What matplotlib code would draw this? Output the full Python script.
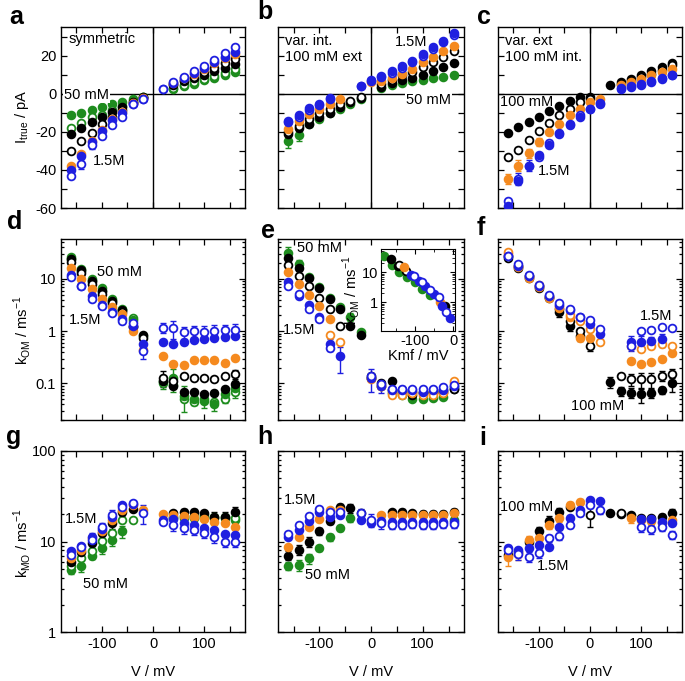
import numpy as np
import matplotlib
matplotlib.use('Agg')
import matplotlib.pyplot as plt
from matplotlib.ticker import MultipleLocator, LogLocator, NullFormatter, FixedLocator

plt.rcParams['font.family'] = ['Liberation Sans', 'DejaVu Sans']
plt.rcParams['font.size'] = 10.5
plt.rcParams['axes.unicode_minus'] = False

N = np.nan
V = np.arange(-160, 161, 20)

GREEN = '#1e8c1e'
ORANGE = '#f58a1f'
BLUE = '#1f1fe0'
BLACK = '#000000'

# ---- panel a : I_true (pA), symmetric
a_green_f = [-11, -10, -8.5, -7, -5.5, -4.5, -3, -1.5, N, N, 2.3, 3.8, 5.2, 7, 8.3, 9.6, 11.5]
a_green_o = [-18, -15.5, -12.5, -11, -8.5, -6.5, -4, -2, N, N, 2.8, 4.3, 6, 7.8, 9.3, 11, 13]
a_black_f = [-21, -18, -15, -12.5, -9.5, -7, -4.5, -2, N, N, 4.5, 6.6, 8, 10, 12, 13.5, 15.6]
a_black_o = [-30, -25, -20.5, -16, -12, -8.5, -5, -2.5, N, N, 5, 7.2, 9, 11.3, 13.5, 16, 18]
a_orange_f = [-38, -31.5, -25, -19, -13.5, -9.5, -5, -2.5, N, N, 5.5, 8, 10.5, 13, 16, 18.5, 21]
a_blue_f = [-40, -32.5, -25.5, -19.5, -14, -10, -5.5, -3, N, 2.2, 5.5, 8, 10.8, 13.5, 16.5, 19.5, 22]
a_blue_o = [-43, -37, -27, -22, -16.5, -12, -5.5, -3, N, 2.4, 6, 8.7, 11.8, 14.4, 17.5, 21.4, 24.3]
a_blue_o_err = [1.5, 2.5, 2, 1.5, 1, N, N, N, N, N, N, N, N, N, N, N, N]

# ---- panel b : var. int.
b_green_f = [-24.7, -21.7, -16, -13.4, -10.4, -7.8, -5.2, -3, N, 3.1, 4.5, 5.6, 6.4, 7.2, 8.2, 9, 9.6]
b_green_f_err = [4, 3, 1, N, N, N, N, N, N, N, N, N, N, N, N, N, N]
b_black_f = [-21.2, -18, -15.7, -12.2, -10, -7, -4.3, -2.3, N, 3.5, 5.6, 7, 8.2, 9.6, 11.7, 14, 16.2]
b_black_o = [-20, -17, -13.4, -10.4, -7.8, -5.2, -4, -1.7, N, 4.9, 7, 9.6, 11.3, 14, 16.5, 19, 22.6]
b_orange_f = [-18.3, -14.3, -10.8, -7.8, -5.2, -2.6, N, N, 6, 6.5, 8.3, 10.5, 13, 16.5, 19.5, 22.6, 25]
b_blue_o = [-15, -12, -8.5, -6, -3, N, N, 3.8, 6.5, 8.5, 11, 13.5, 16.5, 20, 23.5, 27, 31]
b_blue_f = [-14.3, -11, -7.5, -5.2, -2.3, N, N, 4.2, 7, 9.2, 11.8, 14.4, 17.4, 20.9, 24.3, 27.8, 31.8]

# ---- panel c : var. ext
c_black_f = [-20.5, -17.7, -15.1, -12.2, -9.2, -6.6, -3.8, -1.7, -2, N, 4.3, 6, 7.8, 9.6, 11.8, 13.9, 16.2]
c_black_o = [-33.4, -29.6, -24.3, -19.7, -15.3, -11.3, -8.3, -4.3, -2.6, N, N, 5, 6.8, 8.5, 10.2, 12.5, 15]
c_orange_f = [-44.7, -37.7, -31.3, -25.2, -20, -15.7, -11.3, -7.8, -4.3, -3, N, 4.3, 6, 7.8, 9.6, 11.5, 13]
c_orange_f_err = [2.5, 3, 2.5, 2, 1.5, 1, N, N, N, N, N, N, N, N, N, N, N]
c_blue_o = [-56.5, -44.7, -37.7, -33, -26, -20.5, -15.7, -11.3, -7.8, -4.9, N, 3.1, 3.8, 5.2, 6.6, 8.2, 10]
c_blue_o_err = [N, 3, 3, 2, 1.5, N, N, N, N, N, N, N, N, N, N, N, N]
c_blue_f = [-59, -46, -38, -32, -27, -21, -16.5, -12, -8.3, -5.6, N, 2.6, 3.3, 4.5, 6, 7.5, 9.6]

# ---- panel d : k_OM, symmetric
d_green_f = [26.8, 15.4, 10, 6.7, 4.1, 2.7, 1.67, 0.8, N, 0.11, 0.13, 0.058, 0.05, 0.046, 0.04, 0.062, 0.083]
d_green_f_err = [N, N, N, N, N, N, N, N, N, 0.03, 0.06, 0.03, 0.012, 0.012, 0.01, 0.02, 0.03]
d_green_o = [24, 14, 9, 6, 3.8, 2.5, 1.8, N, N, 0.1, 0.095, 0.05, 0.045, 0.05, 0.045, 0.05, 0.07]
d_black_f = [23.8, 15, 9, 5.8, 3.7, 2.5, 1.28, 0.86, N, 0.11, 0.09, 0.07, 0.069, 0.062, 0.065, 0.077, 0.096]
d_black_o = [21, 13, 8, 5.2, 3.4, 2.3, 1.2, 0.75, N, 0.13, 0.11, 0.14, 0.13, 0.13, 0.12, 0.14, 0.15]
d_black_o_err = [N, N, N, N, N, N, N, N, N, 0.045, N, N, N, N, N, N, 0.03]
d_orange_f = [16, 10, 6.4, 4.1, 2.9, 2.1, 1.0, 0.43, N, 0.33, 0.24, 0.23, 0.28, 0.28, 0.28, 0.25, 0.31]
d_blue_f = [12, 7.4, 4.8, 3.1, 2.3, 1.7, 1.25, 0.56, N, 0.62, 0.58, 0.62, 0.67, 0.71, 0.75, 0.78, 0.8]
d_blue_o = [10.8, 7.2, 4.1, 3.0, 2.2, 1.6, 1.44, 0.42, N, 1.16, 1.15, 0.96, 1.0, 0.96, 1.0, 1.04, 1.07]
d_blue_o_err = [N, N, N, N, N, N, N, 0.12, N, 0.25, 0.45, 0.25, 0.25, 0.3, 0.3, 0.3, 0.3]

# ---- panel e : k_OM, var. int.
e_green_f = [31, 19, 11, 7, 4.4, 2.9, 1.9, 0.96, 0.13, 0.09, 0.065, 0.06, 0.05, 0.05, 0.052, 0.055, 0.085]
e_green_f_err = [10, 4, N, N, N, N, 0.3, N, N, N, N, N, N, N, N, N, N]
e_black_f = [25, 16, 10.4, 6.7, 4.1, 2.6, 1.25, 0.83, 0.13, N, 0.11, 0.075, 0.06, 0.065, 0.07, 0.07, 0.08]
e_black_o = [18.6, 11.2, 7.2, 4.3, 2.7, 1.25, N, N, 0.14, 0.1, 0.075, 0.07, 0.07, 0.07, 0.07, 0.075, 0.08]
e_orange_f = [13.3, 8.1, 5, 3, 1.7, N, N, N, 0.13, 0.09, 0.07, 0.065, 0.07, 0.065, 0.065, 0.07, 0.1]
e_orange_o = [N, N, N, N, 0.86, 0.62, N, N, 0.12, 0.09, 0.06, 0.06, 0.065, 0.06, 0.06, 0.065, 0.11]
e_blue_f = [8.6, 4.8, 3.2, 1.9, 0.56, 0.33, N, N, 0.13, 0.09, 0.075, 0.075, 0.075, 0.07, 0.075, 0.075, 0.09]
e_blue_f_err = [N, N, N, N, 0.15, 0.17, N, N, 0.06, 0.025, N, 0.015, N, 0.015, N, 0.015, N]
e_blue_o = [7.4, 5.2, 2.7, 1.7, 0.48, N, N, N, 0.14, 0.097, 0.08, 0.08, 0.08, 0.08, 0.08, 0.085, 0.095]

# inset of e : k_OM vs Kmf
ins_green_x = [-180, -159, -140, -119, -100, -80, -59]
ins_green_k = [36, 18, 10, 6.8, 4.6, 2.8, 1.8]
ins_black_x = [-163, -144, -20]
ins_black_k = [28, 16.7, 0.77]
ins_blacko_x = [-142, -123]
ins_blacko_k = [18, 11.3]
ins_orange_x = [-127, -34]
ins_orange_k = [14.7, 1.0]
ins_blue_x = [-110, -89, -72, -51, -30, -8]
ins_blue_k = [8.4, 5, 3.6, 1.9, 0.77, 0.3]
ins_blueo_x = [-102, -80, -59, -38, -19]
ins_blueo_k = [7.7, 4.6, 2.6, 1.55, 0.46]

# ---- panel f : k_OM, var. ext
f_black_f = [27, 17.4, 11.2, 7.2, 4.6, 2.3, 1.25, 0.8, N, N, 0.108, 0.072, 0.067, 0.062, 0.067, 0.075, 0.1]
f_black_f_err = [N, N, N, N, N, 0.4, 0.25, 0.15, N, N, 0.025, 0.015, 0.015, 0.02, 0.015, 0.012, 0.03]
f_black_o = [25, 16, 10.5, 6.8, 4.4, 2.6, 1.55, 1.0, 0.52, N, N, 0.14, 0.12, 0.12, 0.12, 0.14, 0.15]
f_black_o_err = [N, N, N, N, N, N, N, N, 0.1, N, N, N, 0.03, 0.04, 0.04, 0.03, 0.04]
f_orange_f = [30, 17, 10.5, 7, 4.4, 2.8, 1.9, 0.75, 0.75, N, N, N, 0.27, 0.24, 0.26, 0.3, 0.39]
f_orange_o = [33, 18, 11.5, 7.5, 4.8, 3, 2.0, 1.55, 1.1, 0.62, N, N, 0.53, 0.45, 0.52, 0.58, 0.53]
f_blue_f = [27, 18, 11.5, 7.3, 4.8, 3.2, 2.5, 1.87, 1.4, 0.9, N, N, 0.62, 0.62, 0.64, 0.7, N]
f_blue_f_err = [N, N, N, N, N, N, N, N, N, 0.3, N, N, 0.2, 0.2, 0.15, 0.2, N]
f_blue_o = [28, 19, 12, 7.8, 5, 3.4, 2.6, 1.9, 1.67, 1.1, N, N, 0.52, 1.0, 1.04, 1.2, 1.16]

# ---- panel g : k_MO, symmetric
g_green_f = [4.9, 5.4, 7.0, 8.4, 10.4, 12.9, N, N, N, N, 18.5, 19.2, 19.2, 19.6, 18.5, 18.8, 17.3]
g_green_f_err = [0.5, 0.8, 0.6, 1.2, 1.5, 2, N, N, N, N, N, N, N, N, N, N, N]
g_green_o = [5.3, 6.5, 7.8, 10.2, 12.3, 17.3, 17.3, N, N, N, 18, 18, 18, 18, 18, 18, 18]
g_black_f = [6.0, 7.6, 9.6, 12.3, 15.9, 21.4, 22.7, N, N, N, 20.5, 21.4, 21.4, 20.5, 18.5, 18.8, 21.4]
g_black_f_err = [N, 1, 1.5, 1.5, 2, 2.5, N, N, N, N, N, 1.5, 1.5, 1.5, 2.5, 2.5, 2.5]
g_orange_f = [6.5, 8.1, 10.9, 12.9, 17.3, 22.3, 25, 22.3, N, 20.2, 19.6, 19.2, 18.5, 17.6, 16.6, 15.9, 14.4]
g_blue_f = [7.8, 9.0, 11.2, 13.7, 18.5, 25.3, 26, N, N, 17.3, 17.6, 15.9, 15.2, 14.0, 13.4, 12.2, 11.8]
g_blue_o = [7.1, 8.8, 10.5, 14.6, 19.6, 24, 26.8, 20.5, N, 16.6, 15.2, 14.0, 13.4, 12.3, 11.2, 10.0, 9.75]
g_blue_o_err = [N, N, 2, 1.5, 2.5, N, N, 5, N, N, 2, 2, 1.5, 1.5, 1.5, 1.2, 1]

# ---- panel h : k_MO, var. int.
h_green_f = [5.4, 5.5, 6.5, 8.4, 11.2, 14.0, 18.0, N, N, N, N, N, N, N, N, N, 17.5]
h_green_f_err = [0.5, 0.8, 0.8, 0.6, 1, 1, 1.5, N, N, N, N, N, N, N, N, N, N]
h_black_f = [7.0, 8.1, 10.0, 12.9, 17.0, 24.3, 23.3, 20.9, N, N, 21, 21.4, 20.5, 20, 20, 20, 21]
h_black_f_err = [0.8, 1, 1.2, 1.2, 1.5, 1.5, 2.5, N, N, N, 1.5, 1.5, 1.5, 1.5, 1.5, 1.5, 2]
h_orange_f = [8.7, 11.2, 14.6, 17.6, 22.3, 22.3, N, N, N, 19.6, 19.6, 19.6, 19.6, 19.6, 19.6, 19.6, 20.5]
h_blue_f = [11.2, 13.4, 17.0, 21.4, 18.5, 19.6, N, 17.3, 15.9, 17, 16.6, 16.6, 16.6, 16.6, 16.6, 16.6, 16.6]
h_blue_o = [12.2, 15.2, 19.2, 22.7, 21, 21, N, 20.9, 17.3, 15.9, 15.2, 15.2, 15.5, 15.2, 15.2, 15.5, 15.5]
h_blue_o_err = [N, N, N, N, N, N, N, 2, 3, 2, 1.5, 1.5, 1.5, 1.5, 1.5, 1.5, 1.5]

# ---- panel i : k_MO, var. ext
i_black_f = [7.1, 7.6, 10.0, 12.9, 17.0, 21.4, 23.9, N, N, N, 20.5, 20.2, 19.6, 18.0, 18.0, 18.8, 20.9]
i_black_f_err = [N, N, 1.2, 1.5, 2, 2, N, N, N, N, N, 1.5, N, N, N, 1.5, 2]
i_black_o = [N, N, N, N, N, N, N, N, 19.6, N, N, 20.5, N, N, N, N, N]
i_black_o_err = [N, N, N, N, N, N, N, N, 5, N, N, 1.5, N, N, N, N, N]
i_orange_f = [6.8, 7.3, 10.5, 10.9, 15.2, 18.0, 25.3, 27.5, N, N, N, N, 18.0, 17.5, 17.0, 15.9, 17.3]
i_orange_f_err = [1.5, 1, 1, 1, 1.5, 1.5, 2, 2, N, N, N, N, 2, 2, 2, 2, 2]
i_blue_f = [8.4, 8.0, 8.4, 9.2, 8.8, 14.6, 18.0, 22.3, 28.7, 28.2, N, N, N, 17.6, 17.6, 16.6, 16]
i_blue_o = [8.1, 7.3, 6.8, 7.4, 10.9, 11.5, 15.2, 20.5, 25.3, 22.3, N, N, N, 14.6, 13.7, 14.6, 11.8]
i_blue_o_err = [1, 1, 0.8, 0.8, 1, 1, 1, 1.5, 2, 2, N, N, N, 2, 1.5, 1.5, 1.2]

W, H = 685, 681
fig = plt.figure(figsize=(W / 100, H / 100), dpi=100)

COLS = [(61, 245), (278, 464), (498, 682)]
ROWS = [(27, 208), (239, 420), (451, 632)]


def px_axes(x0, x1, y0, y1):
    return fig.add_axes([x0 / W, 1 - y1 / H, (x1 - x0) / W, (y1 - y0) / H])


def dots(ax, x, y, color, filled, err=None):
    if err is not None:
        ax.errorbar(x, y, yerr=err, fmt='none', ecolor=color, elinewidth=1.0,
                    capsize=2.2, capthick=1.0, zorder=2)
    ax.plot(x, y, 'o', ls='none', ms=5.6, color=color,
            mfc=color if filled else 'white', mec=color, mew=1.3, zorder=3)


def note(ax, px, py, s, box=False):
    # px = left edge, py = vertical centre of the text (pixels)
    bb = ax.get_position()
    fx = (px / W - bb.x0) / bb.width
    fy = ((1 - py / H) - bb.y0) / bb.height
    kw = dict(facecolor='white', edgecolor='none', pad=0.5) if box else None
    ax.text(fx, fy, s, transform=ax.transAxes, ha='left', va='center',
            bbox=kw, zorder=4, linespacing=1.1)


def style(ax, r, c):
    ax.set_xlim(-180, 180)
    ax.xaxis.set_major_locator(MultipleLocator(100))
    ax.xaxis.set_minor_locator(MultipleLocator(50))
    ax.tick_params(which='both', direction='in', top=True, right=True, width=0.9)
    ax.tick_params(which='major', length=4)
    ax.tick_params(which='minor', length=4 if r == 0 else 2.2)
    ax.tick_params(axis='x', which='minor', length=4)
    if r < 2:
        ax.tick_params(labelbottom=False)
    if c > 0:
        ax.tick_params(labelleft=False)
    for s in ax.spines.values():
        s.set_linewidth(1.0)


panels = {
    (0, 0): [(a_green_f, GREEN, True, None), (a_green_o, GREEN, False, None),
             (a_black_f, BLACK, True, None), (a_black_o, BLACK, False, None),
             (a_orange_f, ORANGE, True, None), (a_blue_f, BLUE, True, None),
             (a_blue_o, BLUE, False, a_blue_o_err)],
    (0, 1): [(b_green_f, GREEN, True, b_green_f_err), (b_black_f, BLACK, True, None),
             (b_black_o, BLACK, False, None), (b_orange_f, ORANGE, True, None),
             (b_blue_o, BLUE, False, None), (b_blue_f, BLUE, True, None)],
    (0, 2): [(c_black_f, BLACK, True, None), (c_black_o, BLACK, False, None),
             (c_orange_f, ORANGE, True, c_orange_f_err), (c_blue_o, BLUE, False, c_blue_o_err),
             (c_blue_f, BLUE, True, None)],
    (1, 0): [(d_green_o, GREEN, False, None), (d_green_f, GREEN, True, d_green_f_err),
             (d_black_f, BLACK, True, None), (d_black_o, BLACK, False, d_black_o_err),
             (d_orange_f, ORANGE, True, None), (d_blue_f, BLUE, True, None),
             (d_blue_o, BLUE, False, d_blue_o_err)],
    (1, 1): [(e_green_f, GREEN, True, e_green_f_err), (e_black_f, BLACK, True, None),
             (e_black_o, BLACK, False, None), (e_orange_f, ORANGE, True, None),
             (e_orange_o, ORANGE, False, None), (e_blue_f, BLUE, True, e_blue_f_err),
             (e_blue_o, BLUE, False, None)],
    (1, 2): [(f_black_f, BLACK, True, f_black_f_err), (f_black_o, BLACK, False, f_black_o_err),
             (f_orange_f, ORANGE, True, None), (f_orange_o, ORANGE, False, None),
             (f_blue_f, BLUE, True, f_blue_f_err), (f_blue_o, BLUE, False, None)],
    (2, 0): [(g_green_f, GREEN, True, g_green_f_err), (g_green_o, GREEN, False, None),
             (g_black_f, BLACK, True, g_black_f_err), (g_orange_f, ORANGE, True, None),
             (g_blue_f, BLUE, True, None), (g_blue_o, BLUE, False, g_blue_o_err)],
    (2, 1): [(h_green_f, GREEN, True, h_green_f_err), (h_black_f, BLACK, True, h_black_f_err),
             (h_orange_f, ORANGE, True, None), (h_blue_f, BLUE, True, None),
             (h_blue_o, BLUE, False, h_blue_o_err)],
    (2, 2): [(i_black_f, BLACK, True, i_black_f_err), (i_black_o, BLACK, False, i_black_o_err),
             (i_orange_f, ORANGE, True, i_orange_f_err), (i_blue_f, BLUE, True, None),
             (i_blue_o, BLUE, False, i_blue_o_err)],
}

axes = {}
for (r, c), series in panels.items():
    ax = px_axes(COLS[c][0], COLS[c][1], ROWS[r][0], ROWS[r][1])
    axes[(r, c)] = ax
    for y, col, filled, err in series:
        dots(ax, V, y, col, filled, err)
    if r == 0:
        ax.set_ylim(-60, 35)
        ax.yaxis.set_major_locator(MultipleLocator(20))
        ax.yaxis.set_minor_locator(MultipleLocator(10))
        ax.axhline(0, color='black', lw=1.0, zorder=1)
        ax.axvline(0, color='black', lw=1.0, zorder=1)
    else:
        ax.set_yscale('log')
        if r == 1:
            ax.set_ylim(0.02, 58)
        else:
            ax.set_ylim(1, 100)
        ax.yaxis.set_major_locator(LogLocator(base=10))
        ax.yaxis.set_minor_locator(LogLocator(base=10, subs=np.arange(2, 10)))
        ax.yaxis.set_minor_formatter(NullFormatter())
        ax.yaxis.set_major_formatter(plt.FuncFormatter(lambda v, p: f'{v:g}'))
    style(ax, r, c)
    if r == 2:
        ax.set_xticks([-100, 0, 100])

# annotations
note(axes[(0, 0)], 69, 39, 'symmetric')
note(axes[(0, 0)], 64, 95, '50 mM', box=True)
note(axes[(0, 0)], 93, 161, '1.5M')
note(axes[(0, 1)], 285, 49, 'var. int.\n100 mM ext')
note(axes[(0, 1)], 395, 42, '1.5M')
note(axes[(0, 1)], 406, 100, '50 mM', box=True)
note(axes[(0, 2)], 505, 49, 'var. ext\n100 mM int.')
note(axes[(0, 2)], 500, 102, '100 mM')
note(axes[(0, 2)], 538, 171, '1.5M')
note(axes[(1, 0)], 97, 272, '50 mM')
note(axes[(1, 0)], 69, 320, '1.5M')
note(axes[(1, 1)], 297, 248, '50 mM')
note(axes[(1, 1)], 283, 330, '1.5M')
note(axes[(1, 2)], 640, 316, '1.5M')
note(axes[(1, 2)], 571, 406, '100 mM')
note(axes[(2, 0)], 65, 519, '1.5M')
note(axes[(2, 0)], 83, 584, '50 mM')
note(axes[(2, 1)], 284, 500, '1.5M')
note(axes[(2, 1)], 305, 575, '50 mM')
note(axes[(2, 2)], 500, 507, '100 mM')
note(axes[(2, 2)], 537, 566, '1.5M')

# inset in e
ins = px_axes(381, 455, 249, 331)
ins.set_yscale('log')
dots(ins, ins_green_x, ins_green_k, GREEN, True)
dots(ins, ins_black_x, ins_black_k, BLACK, True)
dots(ins, ins_blacko_x, ins_blacko_k, BLACK, False)
dots(ins, ins_orange_x, ins_orange_k, ORANGE, True)
dots(ins, ins_blue_x, ins_blue_k, BLUE, True)
dots(ins, ins_blueo_x, ins_blueo_k, BLUE, False)
ins.set_xlim(-188, 5)
ins.set_ylim(0.11, 60)
ins.set_xticks([-100, 0])
ins.xaxis.set_minor_locator(MultipleLocator(50))
ins.yaxis.set_major_locator(FixedLocator([1, 10]))
ins.yaxis.set_major_formatter(plt.FuncFormatter(lambda v, p: f'{v:g}'))
ins.yaxis.set_minor_formatter(NullFormatter())
ins.tick_params(which='both', direction='in', top=True, right=True, pad=2)
ins.tick_params(which='major', length=3.5)
ins.tick_params(which='minor', length=2)
ins.set_xlabel('Kmf / mV', labelpad=1)
ins.set_ylabel('k$_{\\mathregular{OM}}$ / ms$^{\\mathregular{-1}}$', labelpad=0)

# axis labels
fig.text(22 / W, 1 - 117 / H, 'I$_{\\mathregular{true}}$ / pA', rotation=90, ha='center', va='center')
fig.text(22 / W, 1 - 330 / H, 'k$_{\\mathregular{OM}}$ / ms$^{\\mathregular{-1}}$', rotation=90, ha='center', va='center')
fig.text(22 / W, 1 - 543 / H, 'k$_{\\mathregular{MO}}$ / ms$^{\\mathregular{-1}}$', rotation=90, ha='center', va='center')
for cx in (153, 371, 590):
    fig.text(cx / W, 1 - 672 / H, 'V / mV', ha='center', va='center')

# panel letters
for s, x, y in [('a', 16, 17), ('b', 265, 12), ('c', 484, 17),
                ('d', 15, 222), ('e', 268, 231), ('f', 481, 228),
                ('g', 14, 437), ('h', 265, 437), ('i', 483, 438)]:
    fig.text(x / W, 1 - y / H, s, fontsize=18, fontweight='bold', ha='center', va='center')

fig.savefig('out.png', dpi=100)
